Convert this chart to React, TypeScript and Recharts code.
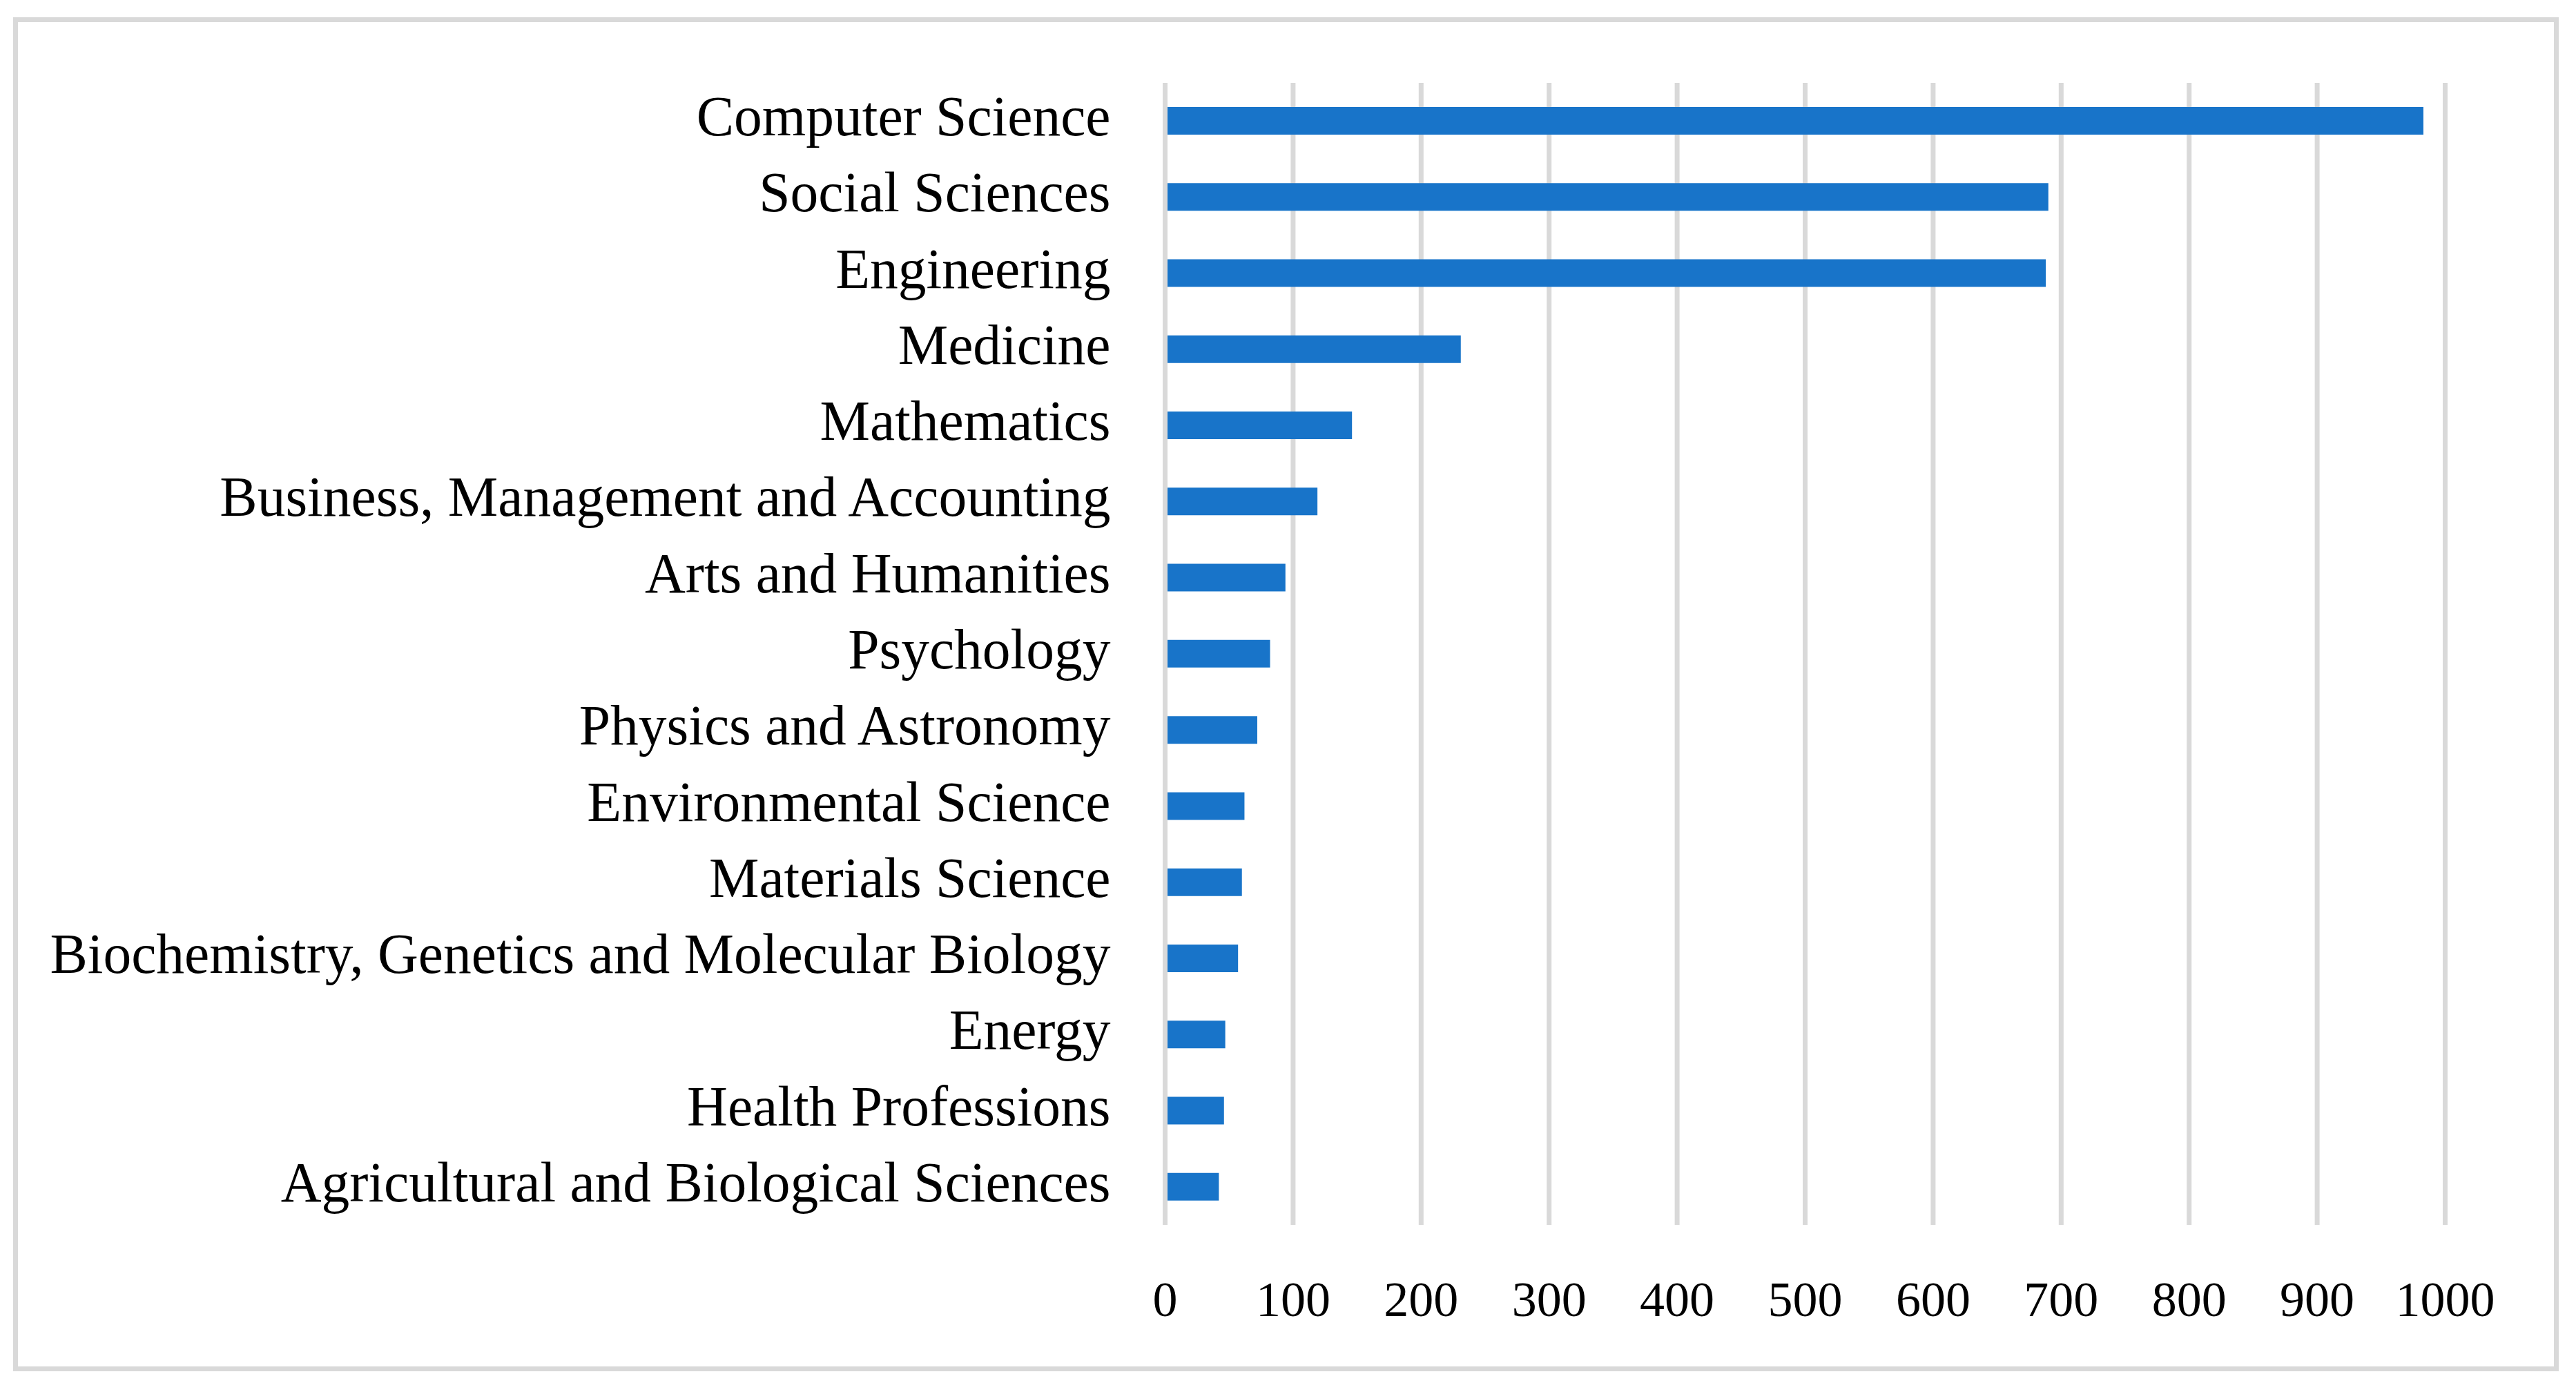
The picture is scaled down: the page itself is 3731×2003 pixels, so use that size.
import React from 'react';
import {
  BarChart,
  Bar,
  XAxis,
  YAxis,
  CartesianGrid,
  ReferenceLine,
} from 'recharts';

const categories = [
  'Computer Science',
  'Social Sciences',
  'Engineering',
  'Medicine',
  'Mathematics',
  'Business, Management and Accounting',
  'Arts and Humanities',
  'Psychology',
  'Physics and Astronomy',
  'Environmental Science',
  'Materials Science',
  'Biochemistry, Genetics and Molecular Biology',
  'Energy',
  'Health Professions',
  'Agricultural and Biological Sciences',
];

const documents = [983, 690, 688, 231, 146, 119, 94, 82, 72, 62, 60, 57, 47, 46, 42];

const xTicks = [0, 100, 200, 300, 400, 500, 600, 700, 800, 900, 1000];

const W = 3731;
const H = 2003;
const FONT = "'Palatino Linotype', 'Book Antiqua', Palatino, 'Liberation Serif', serif";
const GRID = '#D9D9D9';
const BAR = '#1874C9';

// y-axis label, baseline sits a little above the default centring
function CategoryTick({ x, y, payload }: any) {
  return (
    <text
      x={x}
      y={y + 21}
      textAnchor="end"
      fontFamily={FONT}
      fontSize={81.5}
      fill="#000"
    >
      {payload.value}
    </text>
  );
}

export default function App() {
  const data = categories.map((name, i) => ({ name, value: documents[i] }));

  return (
    <div
      style={{
        position: 'absolute',
        left: 0,
        top: 0,
        width: W,
        height: H,
        background: '#fff',
      }}
    >
      {/* outer frame */}
      <div
        style={{
          position: 'absolute',
          left: 19,
          top: 25,
          width: 3687,
          height: 1961,
          border: `7px solid ${GRID}`,
          boxSizing: 'border-box',
        }}
      />
      <div style={{ position: 'absolute', left: 0, top: 0 }}>
        <BarChart
          width={W}
          height={H}
          data={data}
          layout="vertical"
          margin={{ top: 120, right: 189.5, left: 0, bottom: 79 }}
          barSize={40}
        >
          <CartesianGrid
            horizontal={false}
            vertical={true}
            stroke={GRID}
            strokeWidth={7}
          />
          <XAxis
            type="number"
            domain={[0, 1000]}
            ticks={xTicks}
            interval={0}
            axisLine={false}
            tickLine={false}
            tickMargin={75}
            height={150}
            tick={{ fontFamily: FONT, fontSize: 72, fill: '#000' }}
          />
          <YAxis
            type="category"
            dataKey="name"
            width={1687.5}
            axisLine={false}
            tickLine={false}
            tickMargin={73}
            interval={0}
            tick={<CategoryTick />}
          />
          <Bar dataKey="value" fill={BAR} isAnimationActive={false} />
          <ReferenceLine x={0} stroke={GRID} strokeWidth={7} />
        </BarChart>
      </div>
    </div>
  );
}
